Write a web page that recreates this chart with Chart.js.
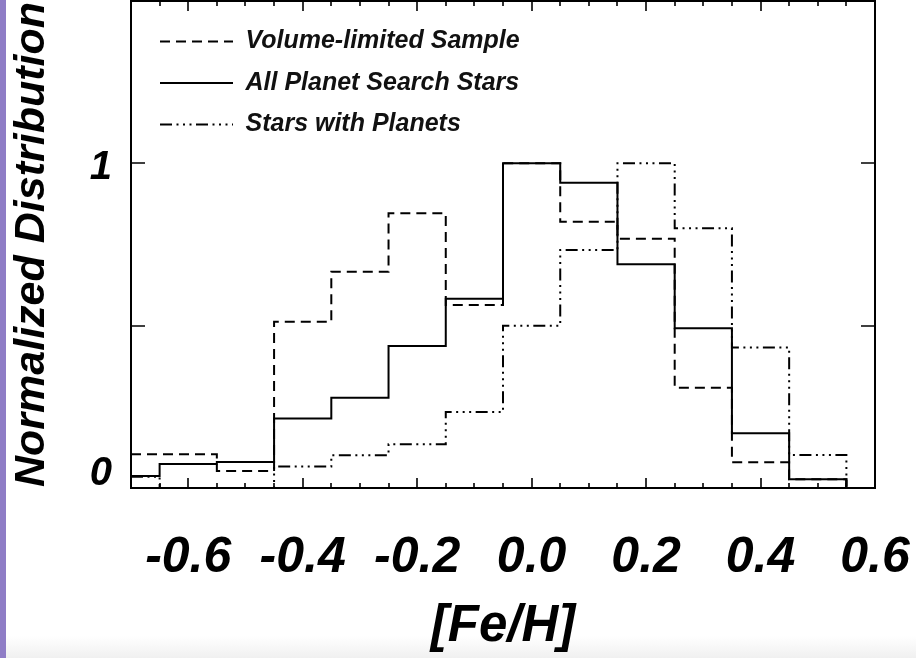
<!DOCTYPE html>
<html>
<head>
<meta charset="utf-8">
<script src="https://cdn.jsdelivr.net/npm/chart.js@4"></script>
<style>
html,body{margin:0;padding:0;}
body{width:916px;height:658px;overflow:hidden;position:relative;
  background:linear-gradient(to bottom,#ffffff 0px,#ffffff 636px,#f0f0f0 658px);}
#strip{position:absolute;left:0;top:0;width:6px;height:658px;background:#8f7dc6;}
canvas{position:absolute;left:0;top:0;}
</style>
</head>
<body>
<canvas id="c" width="916" height="658"></canvas>
<div id="strip"></div>
<script>
// ---- data ----
const feh = [-0.7,-0.6,-0.5,-0.4,-0.3,-0.2,-0.1,0.0,0.1,0.2,0.3,0.4,0.5,0.6];
const volumeLimited    = [0.104,0.104,0.052,0.512,0.666,0.846,0.564,1.000,0.820,0.768,0.309,0.079,0.027,0.0];
const allPlanetSearch  = [0.037,0.074,0.080,0.214,0.278,0.437,0.583,1.000,0.940,0.689,0.492,0.169,0.027,0.0];
const starsWithPlanets = [0.035,0.0,0.0,0.066,0.101,0.135,0.234,0.500,0.733,1.000,0.800,0.433,0.102,0.0];
const seriesNames = ['Volume-limited Sample','All Planet Search Stars','Stars with Planets'];
const xTickValues = [-0.6,-0.4,-0.2,0.0,0.2,0.4,0.6];
const xTickLabels = ['-0.6','-0.4','-0.2','0.0','0.2','0.4','0.6'];
const yTickLabels = ['0','1'];

const FAMILY = "'Liberation Sans', Arial, Helvetica, sans-serif";
const bi = size => ({family: FAMILY, size: size, weight: 'bold', style: 'italic', lineHeight: 1.2});
const pts = arr => feh.map((f, i) => ({x: f, y: arr[i]}));

// frame + inward tick marks drawn through the chart's own scales
const framePlugin = {
  id: 'frame',
  afterDatasetsDraw(chart) {
    const {ctx, chartArea: a, scales: {x, y}} = chart;
    ctx.save();
    ctx.setLineDash([]);
    ctx.strokeStyle = '#000';
    ctx.lineWidth = 2;
    ctx.strokeRect(a.left, a.top, a.right - a.left, a.bottom - a.top);
    ctx.lineWidth = 1.6;
    ctx.beginPath();
    for (let k = -13; k <= 11; k++) {
      const px = Math.round(x.getPixelForValue(k * 0.05));
      const len = (k % 4 === 0) ? 10 : 5;
      ctx.moveTo(px, a.bottom); ctx.lineTo(px, a.bottom - len);
      ctx.moveTo(px, a.top); ctx.lineTo(px, a.top + len);
    }
    for (const v of [0.5, 1.0]) {
      const py = Math.round(y.getPixelForValue(v));
      ctx.moveTo(a.left, py); ctx.lineTo(a.left + 14, py);
      ctx.moveTo(a.right, py); ctx.lineTo(a.right - 14, py);
    }
    ctx.stroke();
    ctx.restore();
  }
};

// nudge the in-plot legend to its place in the upper-left corner
const legendPlace = {
  id: 'legendPlace',
  afterLayout(chart) {
    const lg = chart.legend;
    if (!lg) return;
    const dx = 12.5, dy = 12.5;
    lg.left += dx; lg.right += dx; lg.top += dy; lg.bottom += dy;
  }
};

const common = {borderColor: '#000', backgroundColor: '#000', borderWidth: 2,
  stepped: 'middle', pointRadius: 0, pointHoverRadius: 0, fill: false, tension: 0};

new Chart(document.getElementById('c'), {
  type: 'line',
  data: {
    datasets: [
      Object.assign({label: seriesNames[0], data: pts(volumeLimited), borderDash: [10, 6]}, common),
      Object.assign({label: seriesNames[1], data: pts(allPlanetSearch)}, common),
      Object.assign({label: seriesNames[2], data: pts(starsWithPlanets),
        borderDash: [12, 4.5, 2, 4.5, 2, 4.5, 2, 4.5]}, common)
    ]
  },
  options: {
    responsive: false,
    animation: false,
    events: [],
    layout: {padding: {left: 0, right: 41, top: 1, bottom: 0}},
    plugins: {
      tooltip: {enabled: false},
      legend: {
        position: 'chartArea',
        align: 'start',
        labels: {
          usePointStyle: true,
          pointStyle: 'line',
          pointStyleWidth: 73,
          padding: 16.5,
          color: '#111',
          font: bi(25),
          generateLabels: chart => Chart.defaults.plugins.legend.labels.generateLabels(chart).map(item => {
            const ds = chart.data.datasets[item.datasetIndex];
            item.lineDash = ds.borderDash || [];
            item.lineWidth = ds.borderWidth;
            item.strokeStyle = ds.borderColor;
            item.fillStyle = ds.borderColor;
            return item;
          })
        }
      }
    },
    scales: {
      x: {
        type: 'linear',
        min: -0.7, max: 0.6,
        afterBuildTicks: s => { s.ticks = xTickValues.map(v => ({value: v})); },
        afterFit: s => { s.height = 170; s.paddingLeft = 0; s.paddingRight = 0; },
        grid: {display: false, drawTicks: false},
        border: {display: false},
        ticks: {autoSkip: false, maxRotation: 0, minRotation: 0, padding: 40, color: '#000',
          font: bi(50), callback: (v, i) => xTickLabels[i]},
        title: {display: true, text: '[Fe/H]', color: '#000', font: bi(51),
          padding: {top: 0, bottom: 0}}
      },
      y: {
        type: 'linear',
        min: 0, max: 1.5,
        afterBuildTicks: s => { s.ticks = [{value: 0.043}, {value: 0.9855}]; },
        afterFit: s => { s.width = 131; s.paddingTop = 0; s.paddingBottom = 0; },
        grid: {display: false, drawTicks: false},
        border: {display: false},
        ticks: {padding: 19, color: '#000', font: bi(40), callback: (v, i) => yTickLabels[i]},
        title: {display: true, text: 'Normalized Distribution', color: '#000', font: bi(43),
          padding: {top: 6, bottom: 0}}
      }
    }
  },
  plugins: [framePlugin, legendPlace]
});
</script>
</body>
</html>
